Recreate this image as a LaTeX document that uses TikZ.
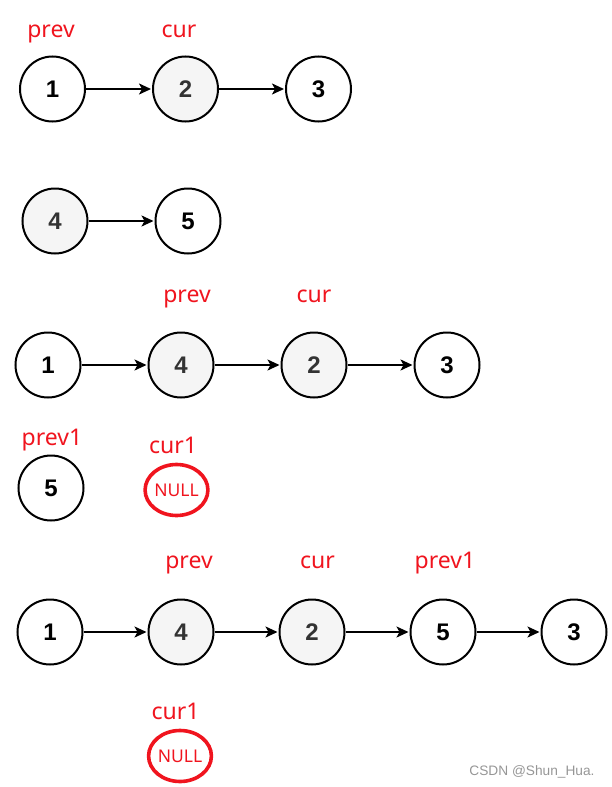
\documentclass[tikz,border=0pt]{standalone}
\usepackage{fontspec}
\usetikzlibrary{arrows.meta,automata,shapes.geometric}
\newfontfamily\numfont{Liberation Sans}
\newfontfamily\lblfont{Noto Sans}
\definecolor{lblred}{RGB}{240,20,30}
\definecolor{nodefill}{RGB}{245,245,245}
\definecolor{numgray}{RGB}{51,51,51}
\definecolor{markgray}{RGB}{150,150,150}

\begin{document}
\begin{tikzpicture}[x=1pt,y=-1pt,>={Stealth[length=12pt,width=11pt,inset=3pt]},shorten >=1pt,auto,node distance=133pt,
	every state/.style={draw=black,line width=2pt,minimum size=65pt,inner sep=0pt,fill=white,font=\numfont\bfseries\fontsize{24}{28}\selectfont},
	greynode/.style={fill=nodefill,text=numgray},
	ptr/.style={anchor=base,text=lblred,font=\lblfont\fontsize{23}{26}\selectfont},
	nullnode/.style={ellipse,draw=lblred,line width=3.6pt,minimum width=59pt,minimum height=51pt,inner sep=0pt,text=lblred,font=\lblfont\fontsize{17.5}{20}\selectfont},
	every edge/.style={draw,line width=1.8pt}]

\useasboundingbox (0,0) rectangle (611,787);

% first list and second list
\node[state]   (a1)      at (52.5,89)   {1};
 \node[state,greynode] 	  (a2) [right of=a1]  	{2};
	\node[state]   (a3) [right of=a2]      	{3};
	\node[ptr] (pa) at (51,37) {prev};
	\node[ptr] (ca) at (179,37) {cur};

	\node[state,greynode]   (b4)   at (55,221)   {4};
	\node[state] 	  (b5) [right of=b4]  	{5};

% 4 moved behind 1
	\node[state]   (c1)   at (48,365)   {1};
	\node[state,greynode] 	  (c4) [right of=c1]  	{4};
	\node[state,greynode] 	  (c2) [right of=c4]  	{2};
	\node[state] 	  (c3) [right of=c2]  	{3};
	\node[ptr] (pc) at (187,302) {prev};
	\node[ptr] (cc) at (314,302) {cur};

	\node[state]   (d5)   at (51,488)   {5};
	\node[nullnode] (dn) at (176.5,490) {NULL};
	\node[ptr] (pd) at (52,445) {prev1};
	\node[ptr] (cd) at (173,453) {cur1};

% 5 moved behind 2
	\node[state]   (e1)   at (50,632)   {1};
	\node[state,greynode] 	  (e4) [right of=e1,node distance=131pt]  	{4};
	\node[state,greynode] 	  (e2) [right of=e4,node distance=131pt]  	{2};
	\node[state] 	  (e5) [right of=e2,node distance=131pt]  	{5};
	\node[state] 	  (e3) [right of=e5,node distance=131pt]  	{3};
	\node[ptr] (pe) at (189,568) {prev};
	\node[ptr] (ce) at (317.5,568) {cur};
	\node[ptr] (qe) at (445,568) {prev1};

	\node[nullnode] (fn) at (180,756) {NULL};
	\node[ptr] (cf) at (175.5,719) {cur1};

	\node[anchor=base,text=markgray,font=\numfont\fontsize{13.7}{16}\selectfont] (wm) at (532,775) {CSDN @Shun\_Hua.};

	\path[->] (a1)  edge	  	(a2)
	          (a2)  edge	  	(a3)
	          (b4)  edge	  	(b5)
	          (c1)  edge	  	(c4)
	          (c4)  edge	  	(c2)
	          (c2)  edge	  	(c3)
	          (e1)  edge	  	(e4)
	          (e4)  edge	  	(e2)
	          (e2)  edge	  	(e5)
	          (e5)  edge	  	(e3);
\end{tikzpicture}
\end{document}
